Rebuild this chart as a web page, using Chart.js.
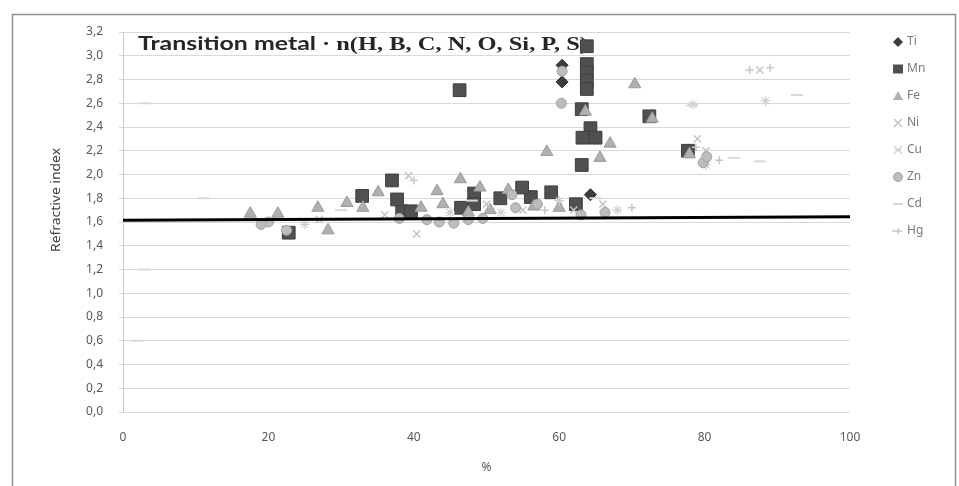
<!DOCTYPE html>
<html><head><meta charset="utf-8">
<script src="https://cdn.jsdelivr.net/npm/chart.js@4/dist/chart.umd.min.js"></script>
<style>html,body{margin:0;padding:0;background:#fff;overflow:hidden}canvas{display:block}</style>
</head><body>
<canvas id="c" width="959" height="486"></canvas>
<script>
// ---- data (x = %, y = refractive index) ----
const seriesNames = ['Ti','Mn','Fe','Ni','Cu','Zn','Cd','Hg'];
const tiPoints = [[60.4,2.92],[60.4,2.78],[64.3,1.83]];
const mnPoints = [[46.3,2.71],[63.8,3.08],[63.8,2.93],[63.8,2.86],[63.8,2.79],[63.8,2.72],[63.1,2.55],[72.4,2.49],
  [64.3,2.39],[63.2,2.31],[65.0,2.31],[63.1,2.08],[77.7,2.20],[62.3,1.75],[58.9,1.85],[56.1,1.81],[54.9,1.89],
  [51.9,1.80],[48.3,1.84],[48.3,1.75],[46.5,1.72],[38.4,1.69],[39.6,1.69],[37.7,1.79],[37.0,1.95],[32.9,1.82],[22.8,1.51]];
const fePoints = [[70.4,2.76],[63.6,2.53],[72.8,2.47],[67.0,2.26],[65.6,2.14],[58.3,2.19],[77.9,2.17],[46.4,1.96],
  [43.2,1.86],[35.1,1.85],[49.1,1.89],[17.5,1.67],[21.3,1.67],[26.8,1.72],[28.2,1.53],[30.8,1.76],[53.0,1.87],
  [41.0,1.72],[44.0,1.75],[50.5,1.70],[60.0,1.72],[56.5,1.73],[33.0,1.72],[47.5,1.68]];
const niPoints = [[87.6,2.88],[79.0,2.30],[80.2,2.20],[39.3,1.99],[40.4,1.50],[27.0,1.62],[36.0,1.66],[50.0,1.75],
  [62.0,1.70],[66.0,1.75],[55.0,1.70]];
const cuPoints = [[88.4,2.62],[80.2,2.08],[78.4,2.59],[25.0,1.58],[45.0,1.68],[60.0,1.78],[52.0,1.68],[68.0,1.70]];
const znPoints = [[60.4,2.87],[60.3,2.60],[22.5,1.53],[41.8,1.62],[43.5,1.60],[45.5,1.59],[47.5,1.62],[49.5,1.63],
  [66.3,1.68],[54.0,1.72],[20.0,1.60],[19.0,1.58],[79.8,2.10],[80.3,2.15],[53.5,1.83],[57.0,1.75],[63.0,1.66],[38.0,1.63]];
const cdPoints = [[3.0,2.60],[3.0,1.20],[2.0,0.60],[11.0,1.80],[84.0,2.14],[87.6,2.11],[92.7,2.67],[30.0,1.70],
  [48.0,1.78],[65.0,1.80],[78.3,2.58]];
const hgPoints = [[89.0,2.90],[86.2,2.88],[78.8,2.23],[82.0,2.12],[40.0,1.95],[58.0,1.70],[70.0,1.72]];
const refLine = [[0,1.615],[100,1.645]];
const yTickLabels = ['0,0','0,2','0,4','0,6','0,8','1,0','1,2','1,4','1,6','1,8','2,0','2,2','2,4','2,6','2,8','3,0','3,2'];
const xTickLabels = ['0','20','40','60','80','100'];
const titleSans = 'Transition metal';
const titleSerif = '\u00b7 n(H, B, C, N, O, Si, P, S)';
const yTitle = 'Refractive index';
const xTitle = '%';

const toXY = arr => arr.map(p => ({x: p[0], y: p[1]}));

const styles = {
  Ti: {pointStyle:'rectRot', radius:6, backgroundColor:'#3c3c3c', borderColor:'#2a2a2a', borderWidth:1},
  Mn: {pointStyle:'rect', radius:9, backgroundColor:'#505050', borderColor:'#3e3e3e', borderWidth:1},
  Fe: {pointStyle:'triangle', radius:7, backgroundColor:'#b0b0b0', borderColor:'#9a9a9a', borderWidth:1},
  Ni: {pointStyle:'crossRot', radius:5, backgroundColor:'#c4c4c4', borderColor:'#c4c4c4', borderWidth:1.5},
  Cu: {pointStyle:'star', radius:5, backgroundColor:'#d0d0d0', borderColor:'#d0d0d0', borderWidth:1.2},
  Zn: {pointStyle:'circle', radius:5, backgroundColor:'#bdbdbd', borderColor:'#a2a2a2', borderWidth:1},
  Cd: {pointStyle:'line', radius:6, backgroundColor:'#d8d8d8', borderColor:'#d8d8d8', borderWidth:2},
  Hg: {pointStyle:'cross', radius:4, backgroundColor:'#c6c6c6', borderColor:'#c6c6c6', borderWidth:1.5}
};
const seriesData = {Ti:tiPoints, Mn:mnPoints, Fe:fePoints, Ni:niPoints, Cu:cuPoints, Zn:znPoints, Cd:cdPoints, Hg:hgPoints};

// later series drawn on top (first dataset drawn last)
const datasets = [{
  type:'line', label:'ref', data: toXY(refLine), borderColor:'#000', borderWidth:3,
  pointRadius:0, fill:false, showLine:true
}];
seriesNames.slice().reverse().forEach(n => {
  const s = styles[n];
  datasets.push({type:'scatter', label:n, data: toXY(seriesData[n]),
    pointStyle:s.pointStyle, pointRadius:s.radius, pointHoverRadius:s.radius,
    pointBackgroundColor:s.backgroundColor, pointBorderColor:s.borderColor, pointBorderWidth:s.borderWidth});
});

function drawMarker(ctx, n, x, y) {
  const s = styles[n];
  ctx.save();
  ctx.fillStyle = s.backgroundColor; ctx.strokeStyle = s.borderColor; ctx.lineWidth = s.borderWidth;
  ctx.beginPath();
  switch (n) {
    case 'Ti': ctx.moveTo(x, y-5); ctx.lineTo(x+5, y); ctx.lineTo(x, y+5); ctx.lineTo(x-5, y); ctx.closePath(); ctx.fill(); break;
    case 'Mn': ctx.rect(x-5, y-4.5, 10, 9); ctx.fill(); break;
    case 'Fe': ctx.moveTo(x, y-5); ctx.lineTo(x+5, y+4); ctx.lineTo(x-5, y+4); ctx.closePath(); ctx.fill(); break;
    case 'Ni': ctx.moveTo(x-4,y-4); ctx.lineTo(x+4,y+4); ctx.moveTo(x+4,y-4); ctx.lineTo(x-4,y+4); ctx.stroke(); break;
    case 'Cu': ctx.moveTo(x-4,y-4); ctx.lineTo(x+4,y+4); ctx.moveTo(x+4,y-4); ctx.lineTo(x-4,y+4); ctx.moveTo(x-4,y); ctx.lineTo(x+4,y); ctx.stroke(); break;
    case 'Zn': ctx.arc(x, y, 4.5, 0, Math.PI*2); ctx.fill(); ctx.stroke(); break;
    case 'Cd': ctx.moveTo(x-5,y); ctx.lineTo(x+5,y); ctx.stroke(); break;
    case 'Hg': ctx.moveTo(x-6,y); ctx.lineTo(x+4,y); ctx.moveTo(x,y-3); ctx.lineTo(x,y+3); ctx.stroke(); break;
  }
  ctx.restore();
}

function fitText(ctx, text, x, y, targetW) {
  const w = ctx.measureText(text).width;
  ctx.save(); ctx.translate(x, y); ctx.scale(targetW / w, 1); ctx.fillText(text, 0, 0); ctx.restore();
}

const decor = {
  id:'decor',
  beforeDraw(chart) {
    const ctx = chart.ctx;
    ctx.save();
    ctx.fillStyle = '#fff'; ctx.fillRect(0, 0, chart.width, chart.height);
    ctx.strokeStyle = '#8f8f8f'; ctx.lineWidth = 1.5;
    ctx.strokeRect(12.5, 14.5, 943, 480);
    ctx.restore();
  },
  beforeDatasetsDraw(chart) {
    const ctx = chart.ctx;
    ctx.save();
    ctx.fillStyle = '#262626'; ctx.textBaseline = 'alphabetic'; ctx.textAlign = 'left';
    ctx.font = 'bold 18px Lato, "Open Sans", sans-serif';
    fitText(ctx, titleSans, 138, 50, 178);
    ctx.font = 'bold 18px "Liberation Serif", serif';
    fitText(ctx, titleSerif, 322, 50, 266);
    // y axis title
    ctx.fillStyle = '#404040';
    ctx.font = '12px "Noto Sans", sans-serif';
    ctx.translate(60, 200); ctx.rotate(-Math.PI/2);
    ctx.textAlign = 'left'; ctx.textBaseline = 'alphabetic';
    fitText(ctx, yTitle, -52, 0, 104);
    ctx.restore();
  },
  afterDraw(chart) {
    const ctx = chart.ctx;
    ctx.save();
    ctx.font = '12px "Noto Sans", sans-serif';
    ctx.fillStyle = '#7a7a7a'; ctx.textBaseline = 'middle'; ctx.textAlign = 'left';
    seriesNames.forEach((n, i) => {
      const y = 42 + i * 27;
      drawMarker(ctx, n, 898, y);
      ctx.fillStyle = '#7a7a7a';
      ctx.fillText(n, 907, y);
    });
    ctx.restore();
  }
};

new Chart(document.getElementById('c'), {
  data: {datasets},
  options: {
    responsive:false, animation:false, events:[],
    layout:{padding:{left:0, right:109, top:32, bottom:0}},
    plugins:{legend:{display:false}, tooltip:{enabled:false}, title:{display:false}},
    scales:{
      x:{type:'linear', min:0, max:100,
        afterFit(s){ s.height = 74; },
        grid:{display:false, drawTicks:false}, border:{display:false},
        ticks:{stepSize:20, padding:18, color:'#595959', font:{family:'"Noto Sans", sans-serif', size:12},
          callback:(v,i)=>xTickLabels[i]},
        title:{display:true, text:xTitle, color:'#595959', font:{family:'"Noto Sans", sans-serif', size:12}, padding:{top:0,bottom:11}}
      },
      y:{type:'linear', min:0, max:3.2,
        afterFit(s){ s.width = 123; },
        grid:{color:'#d9d9d9', tickLength:4, drawTicks:true},
        border:{display:true, color:'#c8c8c8'},
        ticks:{stepSize:0.2, padding:16, color:'#595959', font:{family:'"Noto Sans", sans-serif', size:12},
          callback:(v,i)=>yTickLabels[i]}
      }
    }
  },
  plugins:[decor]
});
</script>
</body></html>
